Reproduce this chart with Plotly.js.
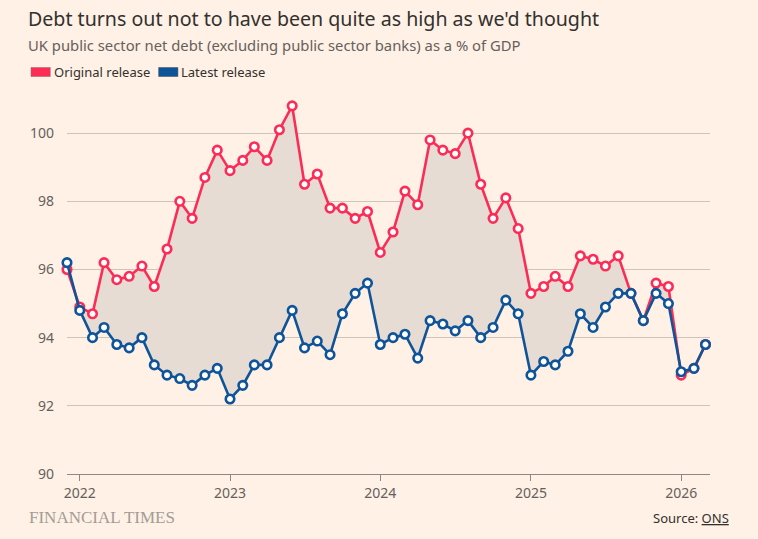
<!DOCTYPE html>
<html>
<head>
<meta charset="utf-8">
<script src="https://cdn.plot.ly/plotly-3.0.1.min.js"></script>
<style>
  html, body { margin: 0; padding: 0; background: #fff1e5; }
  #chart { width: 758px; height: 539px; }
</style>
</head>
<body>
<div id="chart"></div>
<script>
// Monthly, Dec 2021 to Mar 2026
const months = [];
for (let y = 2021; y <= 2026; y++) {
  for (let m = 1; m <= 12; m++) {
    if (y === 2021 && m < 12) continue;
    if (y === 2026 && m > 3) continue;
    months.push(y + "-" + String(m).padStart(2, "0") + "-01");
  }
}

const originalRelease = [
  96.0, 94.9, 94.7, 96.2, 95.7, 95.8, 96.1, 95.5, 96.6, 98.0, 97.5, 98.7,
  99.5, 98.9, 99.2, 99.6, 99.2, 100.1, 100.8, 98.5, 98.8, 97.8, 97.8, 97.5,
  97.7, 96.5, 97.1, 98.3, 97.9, 99.8, 99.5, 99.4, 100.0, 98.5, 97.5, 98.1,
  97.2, 95.3, 95.5, 95.8, 95.5, 96.4, 96.3, 96.1, 96.4, 95.3, 94.5, 95.6,
  95.5, 92.9, 93.1, 93.8,
];

const latestRelease = [
  96.2, 94.8, 94.0, 94.3, 93.8, 93.7, 94.0, 93.2, 92.9, 92.8, 92.6, 92.9,
  93.1, 92.2, 92.6, 93.2, 93.2, 94.0, 94.8, 93.7, 93.9, 93.5, 94.7, 95.3,
  95.6, 93.8, 94.0, 94.1, 93.4, 94.5, 94.4, 94.2, 94.5, 94.0, 94.3, 95.1,
  94.7, 92.9, 93.3, 93.2, 93.6, 94.7, 94.3, 94.9, 95.3, 95.3, 94.5, 95.3,
  95.0, 93.0, 93.1, 93.8,
];

const yearTicks = ["2022-01-01", "2023-01-01", "2024-01-01", "2025-01-01", "2026-01-01"];
const yearLabels = ["2022", "2023", "2024", "2025", "2026"];

const RED = "#fc2c57";
const BLUE = "#0f5499";
const FONT = "Noto Sans, sans-serif";

function lineTrace(values, color, name) {
  return {
    x: months,
    y: values,
    name,
    type: "scatter",
    mode: "lines+markers",
    line: { color, width: 2.6 },
    marker: { size: 8.5, color: "#ffffff", line: { color, width: 2.6 } },
    cliponaxis: false,
    showlegend: false,
    hoverinfo: "x+y",
  };
}

const data = [
  // shaded gap between the two series
  {
    x: months, y: originalRelease, type: "scatter", mode: "lines",
    line: { width: 0 }, showlegend: false, hoverinfo: "skip",
  },
  {
    x: months, y: latestRelease, type: "scatter", mode: "lines",
    line: { width: 0 }, fill: "tonexty", fillcolor: "#e6dcd3",
    showlegend: false, hoverinfo: "skip",
  },
  lineTrace(originalRelease, RED, "Original release"),
  lineTrace(latestRelease, BLUE, "Latest release"),
];

const layout = {
  width: 758,
  height: 539,
  paper_bgcolor: "#fff1e5",
  plot_bgcolor: "#fff1e5",
  font: { family: FONT, color: "#66605c", size: 14 },
  margin: { l: 67, r: 48, t: 82, b: 65 },
  showlegend: false,
  xaxis: {
    type: "date",
    range: ["2021-12-01", "2026-03-12"],
    tickvals: yearTicks,
    ticktext: yearLabels,
    ticks: "outside",
    ticklen: 6,
    tickcolor: "#8f8780",
    showgrid: false,
    showline: true,
    linecolor: "#8f8780",
    linewidth: 1,
    zeroline: false,
    tickfont: { size: 14, color: "#66605c" },
  },
  yaxis: {
    range: [90, 101.5],
    tickvals: [90, 92, 94, 96, 98, 100],
    showgrid: true,
    gridcolor: "#cfc4ba",
    gridwidth: 1,
    zeroline: false,
    ticks: "",
    ticklabelstandoff: 12,
    tickfont: { size: 14, color: "#66605c" },
  },
  // legend swatches
  shapes: [
    { type: "rect", xref: "paper", yref: "paper", x0: -0.056, x1: -0.026, y0: 1.014, y1: 1.037,
      fillcolor: RED, line: { color: "#8a6a6a", width: 0.5 } },
    { type: "rect", xref: "paper", yref: "paper", x0: 0.1425, x1: 0.1725, y0: 1.014, y1: 1.037,
      fillcolor: BLUE, line: { color: "#4a4a5a", width: 0.5 } },
  ],
  annotations: [
    { text: "Debt turns out not to have been quite as high as we'd thought",
      xref: "paper", yref: "paper", x: -0.064, y: 1.163, xanchor: "left", yanchor: "middle",
      showarrow: false, font: { size: 19.6, color: "#33302e", family: FONT } },
    { text: "UK public sector net debt (excluding public sector banks) as a % of GDP",
      xref: "paper", yref: "paper", x: -0.064, y: 1.094, xanchor: "left", yanchor: "middle",
      showarrow: false, font: { size: 14.8, color: "#66605c", family: FONT } },
    { text: "Original release",
      xref: "paper", yref: "paper", x: -0.023, y: 1.0255, xanchor: "left", yanchor: "middle",
      showarrow: false, font: { size: 13, color: "#33302e", family: FONT } },
    { text: "Latest release",
      xref: "paper", yref: "paper", x: 0.1745, y: 1.0255, xanchor: "left", yanchor: "middle",
      showarrow: false, font: { size: 13, color: "#33302e", family: FONT } },
    { text: "FINANCIAL TIMES",
      xref: "paper", yref: "paper", x: -0.062, y: -0.11, xanchor: "left", yanchor: "middle",
      showarrow: false, font: { size: 17, color: "#a39c96", family: "Liberation Serif, serif" } },
    { text: "Source: <u>ONS</u>",
      xref: "paper", yref: "paper", x: 1.033, y: -0.113, xanchor: "right", yanchor: "middle",
      showarrow: false, font: { size: 13, color: "#33302e", family: FONT } },
  ],
};

Plotly.newPlot("chart", data, layout, { displayModeBar: false, staticPlot: true });
</script>
</body>
</html>
